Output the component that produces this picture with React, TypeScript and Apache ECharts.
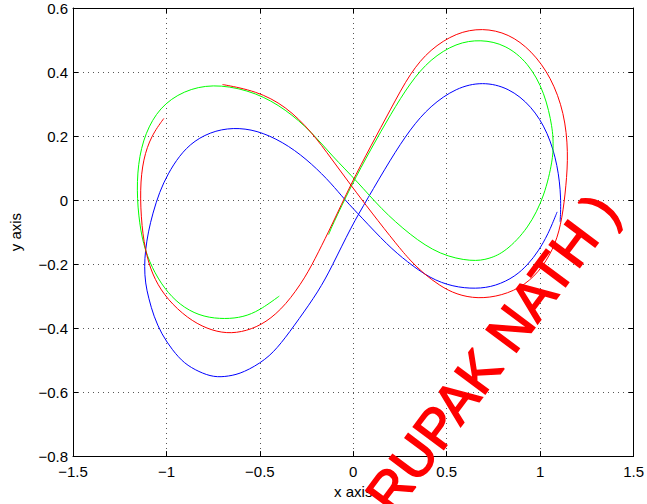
import React, { useEffect, useRef } from "react";
import * as echarts from "echarts";

const xTicks = [-1.5, -1, -0.5, 0, 0.5, 1, 1.5];
const yTicks = [-0.8, -0.6, -0.4, -0.2, 0, 0.2, 0.4, 0.6];

const blueCurve: number[][] = [
  [1.091, -0.037], [1.042, -0.108], [0.989, -0.161], [0.937, -0.2], [0.867, -0.239],
  [0.762, -0.269], [0.656, -0.278], [0.533, -0.271], [0.411, -0.245], [0.288, -0.193],
  [0.183, -0.141], [0.042, -0.053], [-0.046, 0.001], [-0.116, 0.051], [-0.221, 0.113],
  [-0.344, 0.17], [-0.484, 0.212], [-0.611, 0.227], [-0.737, 0.219], [-0.853, 0.186],
  [-0.932, 0.138], [-0.992, 0.082], [-1.037, 0.026], [-1.074, -0.043], [-1.097, -0.099],
  [-1.113, -0.158], [-1.118, -0.207], [-1.113, -0.26], [-1.095, -0.307], [-1.068, -0.363],
  [-1.026, -0.419], [-0.968, -0.469], [-0.905, -0.511], [-0.826, -0.537], [-0.747, -0.554],
  [-0.668, -0.551], [-0.589, -0.54], [-0.467, -0.499], [-0.388, -0.45], [-0.291, -0.372],
  [-0.186, -0.285], [-0.116, -0.21], [-0.011, -0.083], [0.074, 0.002], [0.2, 0.128],
  [0.305, 0.222], [0.411, 0.294], [0.551, 0.351], [0.691, 0.37], [0.832, 0.351],
  [0.954, 0.294], [1.042, 0.212], [1.095, 0.108], [1.113, 0.004], [1.107, -0.068],
];

const greenCurve: number[][] = [
  [-0.132, -0.108], [-0.116, -0.084], [-0.011, 0.045], [0.095, 0.16], [0.2, 0.268],
  [0.305, 0.367], [0.411, 0.44], [0.551, 0.491], [0.683, 0.502], [0.814, 0.486],
  [0.937, 0.429], [1.025, 0.336], [1.068, 0.222], [1.07, 0.17], [1.068, 0.128],
  [1.025, 0.014], [0.937, -0.089], [0.814, -0.162], [0.727, -0.184], [0.638, -0.193],
  [0.463, -0.172], [0.305, -0.11], [0.147, -0.027], [0.025, 0.056], [-0.116, 0.139],
  [-0.221, 0.212], [-0.362, 0.284], [-0.519, 0.336], [-0.712, 0.362], [-0.87, 0.351],
  [-1.011, 0.305], [-1.098, 0.232], [-1.148, 0.139], [-1.16, 0.03], [-1.145, -0.075],
  [-1.116, -0.157], [-1.063, -0.229], [-0.993, -0.291], [-0.905, -0.338], [-0.8, -0.366],
  [-0.686, -0.372], [-0.589, -0.366], [-0.502, -0.345], [-0.396, -0.3],
];

const redCurve: number[][] = [
  [-0.7, 0.361], [-0.519, 0.341], [-0.362, 0.294], [-0.221, 0.212], [-0.116, 0.128],
  [-0.011, 0.045], [0.095, -0.037], [0.235, -0.141], [0.305, -0.189], [0.375, -0.229],
  [0.463, -0.268], [0.551, -0.295], [0.665, -0.309], [0.796, -0.299], [0.919, -0.267],
  [1.016, -0.209], [1.084, -0.136], [1.118, -0.058], [1.139, 0.044], [1.151, 0.149],
  [1.13, 0.272], [1.059, 0.384], [0.954, 0.467], [0.832, 0.52], [0.691, 0.538],
  [0.551, 0.523], [0.411, 0.471], [0.305, 0.398], [0.2, 0.284], [0.095, 0.17],
  [-0.011, 0.052], [-0.116, -0.08], [-0.186, -0.162], [-0.256, -0.242], [-0.362, -0.329],
  [-0.467, -0.383], [-0.572, -0.41], [-0.677, -0.418], [-0.783, -0.403], [-0.888, -0.369],
  [-0.993, -0.312], [-1.063, -0.25], [-1.107, -0.177], [-1.133, -0.084], [-1.142, 0.035],
  [-1.125, 0.128], [-1.081, 0.201], [-1.014, 0.255],
];

const watermark = "RUPAK NATH )";
const FONT = "'Liberation Sans', Arial, Helvetica, sans-serif";

const fmt = (v: number) => {
  const r = Math.round(v * 10) / 10;
  const s = String(Math.abs(r));
  return r < 0 ? "\u2212" + s : s;
};

// Each data item draws its piece of a smooth cubic B-spline through the read points
function curveSeries(data: number[][], color: string) {
  const n = data.length;
  return {
    type: "custom",
    data,
    encode: { x: 0, y: 1 },
    xAxisIndex: 0,
    yAxisIndex: 0,
    clip: true,
    renderItem: (params: any, api: any) => {
      const i = params.dataIndex;
      const P = (k: number) => api.coord(data[Math.max(0, Math.min(n - 1, k))]);
      const E = (m: number) => P(m - 2);
      const seg = (j: number) => {
        const a = E(j), b = E(j + 1), c = E(j + 2), d = E(j + 3);
        return {
          type: "bezierCurve",
          shape: {
            x1: (a[0] + 4 * b[0] + c[0]) / 6, y1: (a[1] + 4 * b[1] + c[1]) / 6,
            cpx1: (2 * b[0] + c[0]) / 3, cpy1: (2 * b[1] + c[1]) / 3,
            cpx2: (b[0] + 2 * c[0]) / 3, cpy2: (b[1] + 2 * c[1]) / 3,
            x2: (b[0] + 4 * c[0] + d[0]) / 6, y2: (b[1] + 4 * c[1] + d[1]) / 6,
          },
          style: { stroke: color, fill: "none", lineWidth: 1 },
        };
      };
      const children: any[] = [];
      if (i === 0) children.push(seg(0));
      if (i <= n - 2) children.push(seg(i + 1));
      if (i === n - 1) children.push(seg(n));
      return { type: "group", children };
    },
  };
}

export default function App() {
  const ref = useRef<HTMLDivElement>(null);
  useEffect(() => {
    if (!ref.current) return;
    const chart = echarts.init(ref.current, null, { renderer: "svg" });
    const axisLine = { show: true, onZero: false, lineStyle: { color: "#000", width: 1 } };
    const tick = { show: true, inside: true, length: 5, lineStyle: { color: "#000" } };
    const split = { show: true, lineStyle: { color: "#555", type: [1, 4] as any, width: 1 } };
    chart.setOption({
      animation: false,
      backgroundColor: "#fff",
      textStyle: { fontFamily: FONT },
      grid: { left: 67, right: 10, top: 8, bottom: 45, containLabel: false },
      xAxis: [
        {
          type: "value", min: xTicks[0], max: xTicks[xTicks.length - 1], interval: 0.5,
          position: "bottom",
          axisLine, axisTick: tick, splitLine: split,
          axisLabel: { color: "#000", fontSize: 15, fontFamily: FONT, margin: 8, formatter: fmt },
          name: "x axis", nameLocation: "middle", nameGap: 26,
          nameTextStyle: { color: "#000", fontSize: 15, fontFamily: FONT },
        },
        {
          type: "value", min: xTicks[0], max: xTicks[xTicks.length - 1], interval: 0.5,
          position: "top", axisLine, axisTick: tick, splitLine: { show: false },
          axisLabel: { show: false },
        },
      ],
      yAxis: [
        {
          type: "value", min: yTicks[0], max: yTicks[yTicks.length - 1], interval: 0.2,
          position: "left",
          axisLine, axisTick: tick, splitLine: split,
          axisLabel: { color: "#000", fontSize: 15, fontFamily: FONT, margin: 5, formatter: fmt },
          name: "y axis", nameLocation: "middle", nameGap: 50, nameRotate: 90,
          nameTextStyle: { color: "#000", fontSize: 15, fontFamily: FONT },
        },
        {
          type: "value", min: yTicks[0], max: yTicks[yTicks.length - 1], interval: 0.2,
          position: "right", axisLine, axisTick: tick, splitLine: { show: false },
          axisLabel: { show: false },
        },
      ],
      series: [
        curveSeries(blueCurve, "#0000ff"),
        curveSeries(greenCurve, "#00ff00"),
        curveSeries(redCurve, "#ff0000"),
      ],
      graphic: [
        {
          type: "text",
          x: 492,
          y: 353,
          rotation: (53.2 * Math.PI) / 180,
          z: 100,
          style: {
            text: watermark,
            fill: "#ff0000",
            stroke: "#ff0000",
            lineWidth: 1.6,
            fontSize: 55,
            fontFamily: FONT,
            align: "center",
            verticalAlign: "middle",
          },
        },
      ],
    });
    return () => chart.dispose();
  }, []);
  return (
    <div
      ref={ref}
      style={{ position: "fixed", left: 0, top: 0, width: 647, height: 504, background: "#fff" }}
    />
  );
}
